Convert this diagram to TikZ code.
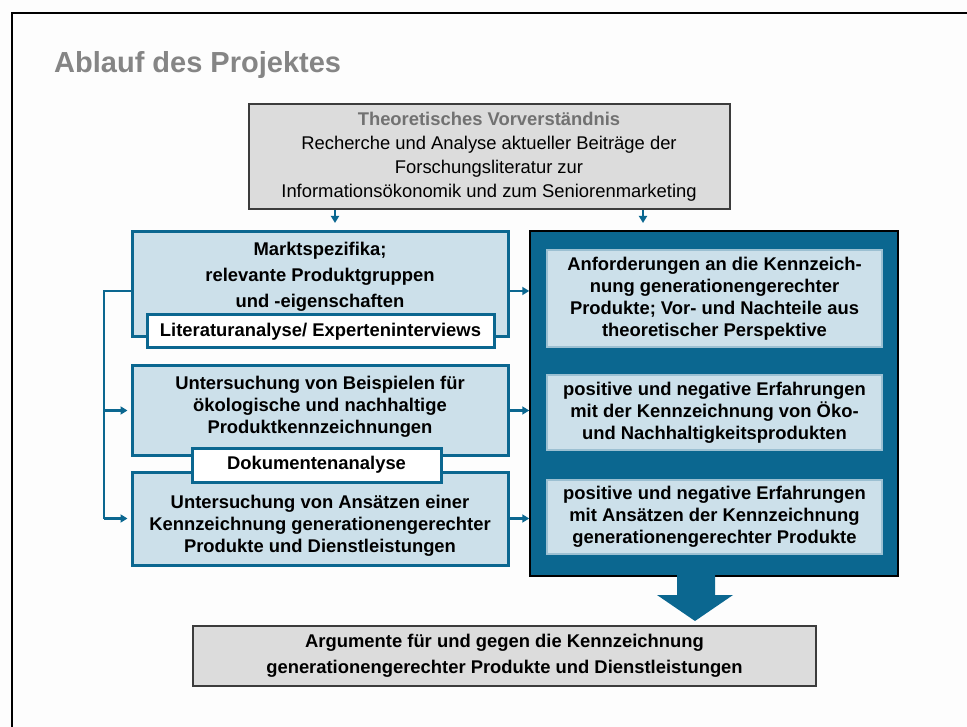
\documentclass[tikz,border=0pt]{standalone}
\usepackage{fontspec}
\setmainfont{Liberation Sans}
\usetikzlibrary{arrows.meta}

\definecolor{pblue}{HTML}{0B6790}
\definecolor{plight}{HTML}{CCE0EA}
\definecolor{pedge}{HTML}{9CC0D2}
\definecolor{pgray}{HTML}{DCDCDC}
\definecolor{gedge}{HTML}{3C3C3C}
\definecolor{tgray}{HTML}{858585}
\definecolor{paper}{HTML}{FDFDFD}

\newcommand\titlefont{\fontsize{29}{34}\selectfont\bfseries}
\newcommand\regfont{\fontsize{18.4}{24}\selectfont}
\newcommand\boxfont{\fontsize{18.4}{22}\selectfont\bfseries}
\newcommand\boxfontwide{\fontsize{18.4}{26}\selectfont\bfseries}

\tikzset{
  lbox/.style={draw=pblue, line width=3pt, fill=plight, minimum width=376pt, inner sep=0pt},
  btext/.style={font=\boxfont, align=center, inner sep=0pt},
  tagbox/.style={draw=pblue, line width=3pt, fill=white, font=\boxfont, inner sep=0pt},
  ibox/.style={draw=pedge, line width=1.2pt, fill=plight, minimum width=335pt, font=\boxfont, align=center, inner sep=0pt},
  gbox/.style={draw=gedge, line width=2pt, fill=pgray, align=center, inner sep=0pt},
  conn/.style={draw=pblue, line width=2.2pt},
  arr/.style={conn, -{Triangle[length=7pt,width=8pt]}},
}

\begin{document}
\begin{tikzpicture}[x=1pt, y=-1pt]
\useasboundingbox (0,0) rectangle (967,727);
\fill[paper] (0,0) rectangle (967,727);
\draw[line width=2.5pt] (12,727) -- (12,12.8) -- (967,12.8);

% title
\node[anchor=base west, font=\titlefont, text=tgray, inner sep=0pt] (title) at (54,72.5) {Ablauf des Projektes};

% theory box
\node[gbox, minimum width=481pt, minimum height=105pt, font=\regfont] (theo) at (489,156.5)
  {\textcolor{tgray!85!black}{\bfseries Theoretisches Vorverständnis}\\Recherche und Analyse aktueller Beiträge der\\Forschungsliteratur zur\\Informationsökonomik und zum Seniorenmarketing};

% left column
\node[lbox, minimum height=105pt] (mkt) at (320,284.5) {};
\node[btext, font=\boxfontwide] (mkt-t) at (320,277) {Marktspezifika;\\relevante Produktgruppen\\und -eigenschaften};
\node[tagbox, minimum width=347pt, minimum height=33pt] (lit) at (320.5,331.5) {Literaturanalyse/ Experteninterviews};

\node[lbox, minimum height=89pt] (bsp) at (320,410.5) {};
\node[btext] (bsp-t) at (320,407) {Untersuchung von Beispielen für\\ökologische und nachhaltige\\Produktkennzeichnungen};

\node[lbox, minimum height=93pt] (ans) at (320,518.5) {};
\node[btext] (ans-t) at (320,526) {Untersuchung von Ansätzen einer\\Kennzeichnung generationengerechter\\Produkte und Dienstleistungen};
\node[tagbox, minimum width=249pt, minimum height=34pt] (dok) at (316.5,465) {Dokumentenanalyse};

% right column
\node[draw=black, line width=1.5pt, fill=pblue, minimum width=368pt, minimum height=345pt, inner sep=0pt] (req) at (714,403.5) {};
\node[ibox, minimum height=97pt] (req1) at (714.5,298.5) {Anforderungen an die Kennzeich-\\nung generationengerechter\\Produkte; Vor- und Nachteile aus\\theoretischer Perspektive};
\node[ibox, minimum height=75pt] (req2) at (714.5,412.5) {positive und negative Erfahrungen\\mit der Kennzeichnung von Öko-\\und Nachhaltigkeitsprodukten};
\node[ibox, minimum height=74pt] (req3) at (714.5,517) {positive und negative Erfahrungen\\mit Ansätzen der Kennzeichnung\\generationengerechter Produkte};

% result
\node[gbox, minimum width=623pt, minimum height=60pt, font=\boxfontwide] (arg) at (504.5,656)
  {Argumente für und gegen die Kennzeichnung\\generationengerechter Produkte und Dienstleistungen};

% block arrow
\fill[pblue] (677,574) -- (715,574) -- (715,595) -- (733,595) -- (695,621) -- (657,595) -- (677,595) -- cycle;

% connectors
\coordinate (t1) at (335,223);
\coordinate (t2) at (643,223);
\draw[arr] (theo.south -| t1) -- (t1);
\draw[arr] (theo.south -| t2) -- (t2);

\coordinate (brk) at (104,291);
\draw[conn] (mkt.west |- brk) -- (brk) -- (brk |- ans.west);
\draw[arr, shorten >=3pt] (brk |- bsp.west) -- (bsp.west);
\draw[arr, shorten >=3pt] (brk |- ans.west) -- (ans.west);

\draw[arr] (mkt.east |- brk) -- (req.west |- brk);
\draw[arr] (bsp.east) -- (bsp.east -| req.west);
\draw[arr] (ans.east) -- (ans.east -| req.west);
\end{tikzpicture}
\end{document}
